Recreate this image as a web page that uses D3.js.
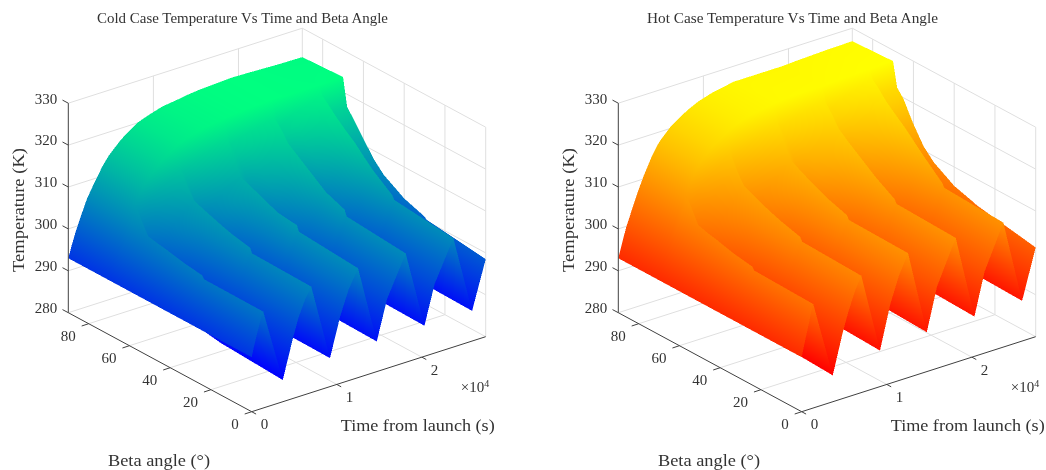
<!DOCTYPE html>
<html lang="en">
<head>
<meta charset="UTF-8">
<title>Cold and hot case temperature</title>
<script src="https://d3js.org/d3.v7.min.js"></script>
<style>
    html, body { margin: 0; background: #fff; }
    svg { display: block; filter: blur(0.45px); }
    text { font-family: "Liberation Serif", serif; fill: #333; font-size: 15px; }
</style>
</head>
<body>
<script>
// values, one row per beta angle
var betas = [0, 29, 30, 40, 45, 50, 55, 60, 65, 68, 70, 90]

// time of each knot (s): start and rise to the 1st peak, then trough/rise/peak for every orbit, last trough, end
var timeRows = [
    [0,250,550,850,1100,1360, 3650,4850,5500,6300,7000, 9200,10400,11400,12500, 14700,15900,18100, 20300,21500,23700, 25900,27500],
    [0,250,550,850,1100,1360, 3650,4850,5500,6300,7000, 9200,10400,11400,12500, 14700,15900,18100, 20300,21500,23700, 25900,27500],
    [0,250,550,850,1100,1360, 3650,4850,5500,6300,7000, 9200,10400,11400,12500, 14700,15900,18100, 20300,21500,23700, 25900,27500],
    [0,300,600,950,1280,1600, 3550,4750,5450,6300,7200, 9100,10300,11400,12700, 14600,15800,18300, 20200,21400,23900, 25800,27500],
    [0,300,650,1050,1400,1750, 3450,4650,5400,6300,7300, 9000,10200,11400,12800, 14500,15700,18400, 20100,21300,24000, 25700,27500],
    [0,320,700,1100,1500,1900, 3350,4550,5350,6300,7400, 8900,10100,11300,12900, 14400,15600,18500, 20000,21200,24100, 25600,27500],
    [0,330,750,1200,1600,2050, 3250,4450,5300,6300,7500, 8750,9950,11200,13000, 14250,15450,18600, 19850,21050,24200, 25450,27500],
    [0,350,800,1250,1700,2200, 3150,4350,5200,6300,7600, 8600,9800,11100,13100, 14100,15300,18700, 19700,20900,24300, 25300,27500],
    [0,380,850,1400,2000,2600, 3050,4200,5000,6250,7800, 8400,9600,11050,13300, 13900,15300,18900, 19500,20900,24500, 25100,27500],
    [0,400,900,1500,2150,2900, 3000,4050,4850,6200,7900, 8300,9500,11000,13400, 13800,15400,19000, 19400,20950,24600, 25000,27500],
    [0,400,900,1500,2200,3000, 3100,4000,4800,6200,8080, 8180,9400,11000,13550, 13650,15500,19150, 19250,21000,24750, 24850,27500],
    [0,400,900,1500,2200,3000, 3100,4000,4800,6200,8080, 8180,9400,11000,13550, 13650,15500,19150, 19250,21000,24750, 24850,27500]
]

var coldTemps = [
    [293,295.2,297.6,299.9,301.7,303, 285.2,294.4,298.9,302.8,305.3, 286.8,296,301.8,306.1, 287.2,296.5,306, 287.3,296.5,306, 287.2,298.5],
    [293,295.3,297.8,300,301.9,303.1, 286,295,299.3,303.1,305.6, 287,296.2,302.5,307.2, 287.5,296.8,307.2, 287.6,296.8,307.5, 287.5,300.3],
    [293,295.3,297.8,300.1,302.2,303.8, 286,295.2,299.7,303.8,306.7, 287.1,296.8,303.3,308.5, 287.6,297.5,308.6, 287.7,297.8,308.4, 287.6,300.8],
    [293,295.6,298,300.6,302.5,304, 287,296,300.5,304.5,307.3, 289,298.3,304.2,308.7, 291,300.3,310, 291,300.8,311.4, 291,302.5],
    [293,295.6,298.4,300.9,302.8,304.2, 288.5,297,301.3,305,307.8, 291.5,300,305,309.4, 295,303,311.5, 295,304,313.3, 295,304],
    [293,295.7,298.6,301,303,304.4, 291,298.7,302.3,305.6,308.4, 294.5,301.8,306,310.2, 299,305.5,313, 299,306.5,315.4, 299,305.5],
    [293,295.8,298.9,301.4,303.1,304.5, 295,301,304,306.6,309, 300,305,308,311, 304.5,309,314.5, 305,310.5,317, 305,308],
    [293,296,299.1,301.5,303.3,304.7, 299,303,305.3,307.3,309.7, 304,307,309.2,311.7, 309,312.2,316, 310,314,318.8, 310,311.5],
    [293,296.2,299.3,302.2,304.9,307, 304,306.2,308,310,312.5, 310.5,312,313.6,315.5, 315,316.3,318.5, 316,318,320.5, 315.5,315],
    [293,296.3,299.6,302.6,305.8,308.3, 307.5,309,310.6,312.5,314.7, 314,315.5,316.8,318.5, 317,318,319.8, 317.5,319,321.5, 316.5,317],
    [293,295.8,299,302.2,305.8,309, 309.3,312.5,314.6,317.4,320, 320.2,321,322,322.7, 322.8,323.2,323.6, 323.6,323.5,323.4, 323.4,323.6],
    [293,295.8,299,302.2,305.8,308.8, 309.1,312.3,314.5,317.3,320, 320.1,321,322,322.7, 322.8,323.2,323.6, 323.6,323.5,323.2, 323.2,323.1]
]

var hotTemps = [
    [293,295.4,298,300.6,303,304.8, 286.3,296,300.4,304.9,307.9, 288.6,298.8,304.9,309.7, 289.4,299.5,309.7, 289.5,299.5,309.7, 289.6,301.3],
    [293,295.5,298.2,300.8,303.2,305.2, 287,296.6,301,305.3,308.4, 289.2,299.5,305.4,310, 290,300,310.2, 290,300.2,310.4, 290,303.8],
    [293,295.5,298.2,300.9,303.5,305.9, 287,296.8,301.5,306,309.3, 289.3,299.8,306,310.9, 290,300.5,311.1, 290,300.7,311.3, 290.1,304],
    [293,295.7,298.6,301.5,303.9,306.2, 288.5,297.5,302.3,306.9,310.2, 291,300.5,306.7,312, 293,302.3,313.5, 293.5,303.3,315, 293.5,305.5],
    [293,295.7,298.9,302,304.3,306.5, 290,299,303.3,307.6,310.8, 293.5,302,307.5,312.8, 297,305,315, 298,306.5,317, 298,307],
    [293,295.8,299.2,302.2,304.6,306.8, 293,300.6,304.3,308.2,311.5, 297,303.8,308.4,313.7, 301.5,308,316.5, 302,309.5,319, 302,308.5],
    [293,295.9,299.5,302.6,304.9,307, 297,303,306.2,309,312.3, 302.5,307,310.4,314.7, 307.5,312,318, 308.5,313.5,320.7, 308.5,311],
    [293,296.1,299.8,302.9,305.2,307.4, 301.5,305.5,307.8,310.1,313.2, 306.5,309.5,311.9,315.7, 312,315.2,319.7, 313.5,317,322.5, 313.5,315],
    [293,296.3,300,303.5,306.9,310, 306.5,308.7,310.5,312.7,316, 313,314.5,316.6,319.5, 318.5,319.8,322.5, 320,321.5,324.5, 319.5,319.8],
    [293,296.3,300,304,307.9,311, 310,311.5,313.4,315.7,318.5, 317,318.5,320.3,322.5, 321,322,324, 321.5,323,325.5, 320.6,321.6],
    [293,296,299.6,303.2,307,311, 311.3,315.2,317.7,320.7,323.2, 323.3,324.5,325.5,326.3, 326.4,326.7,326.8, 326.8,327,327.3, 327.3,327.4],
    [293,296,299.6,303,306.9,310.8, 311.2,315,317.6,320.5,323, 323.1,324.3,325.3,326.3, 326.3,326.3,326.3, 326.3,326.5,326.8, 326.8,326.9]
]

var tempTicks = [280, 290, 300, 310, 320, 330]
var betaTicks = [0, 20, 40, 60, 80]
var timeTicks = [0, 10000, 20000]
var timeTickLabels = ["0", "1", "2"]

var width = 1046
var height = 470
var timeMax = 27500
var betaMax = 90

// oblique projection of the box, each data axis gets its share of screen x and y
var timeX = d3.scaleLinear().domain([0, timeMax]).range([0, 234])
var timeY = d3.scaleLinear().domain([0, timeMax]).range([0, -75])
var betaX = d3.scaleLinear().domain([0, betaMax]).range([0, -183.4])
var betaY = d3.scaleLinear().domain([0, betaMax]).range([0, -99])
var tempY = d3.scaleLinear().domain([280, 330]).range([0, -209.5])

var svg = d3.select("body").append("svg")
    .attr("width", width)
    .attr("height", height)

drawPanel(251.7, "Cold Case Temperature Vs Time and Beta Angle", coldTemps, ["#0000ff", "#00ff80"])
drawPanel(801.7, "Hot Case Temperature Vs Time and Beta Angle", hotTemps, ["#ff0000", "#ffff00"])

// matlab style interpolated surface: z-buffer on a canvas at twice the size, T interpolated per pixel
function surfaceImage(project, temps, colors) {
    var ss = 2
    var w = width * ss
    var h = height * ss
    var zbuf = new Float32Array(w * h).fill(-Infinity)
    var tbuf = new Float32Array(w * h)

    function vertex(i, j, u, v) {
        var t = (timeRows[j][i] * (1 - u) + timeRows[j][i + 1] * u) * (1 - v) + (timeRows[j + 1][i] * (1 - u) + timeRows[j + 1][i + 1] * u) * v
        var T = (temps[j][i] * (1 - u) + temps[j][i + 1] * u) * (1 - v) + (temps[j + 1][i] * (1 - u) + temps[j + 1][i + 1] * u) * v
        var b = betas[j] * (1 - v) + betas[j + 1] * v
        var p = project(t, b, T)
        // nearer the camera = earlier time, lower beta, higher temperature
        return { x: p[0] * ss, y: p[1] * ss, T: T, z: -t / timeMax - 1.276 * b / betaMax + 0.961 * (T - 280) / 50 }
    }
    function triangle(a, b, c) {
        var area = (b.x - a.x) * (c.y - a.y) - (b.y - a.y) * (c.x - a.x)
        if (Math.abs(area) < 1e-6) return
        var x0 = Math.max(0, Math.floor(Math.min(a.x, b.x, c.x)))
        var x1 = Math.min(w - 1, Math.ceil(Math.max(a.x, b.x, c.x)))
        var y0 = Math.max(0, Math.floor(Math.min(a.y, b.y, c.y)))
        var y1 = Math.min(h - 1, Math.ceil(Math.max(a.y, b.y, c.y)))
        for (var y = y0; y <= y1; y++) {
            for (var x = x0; x <= x1; x++) {
                var px = x + 0.5, py = y + 0.5
                var l0 = ((b.x - px) * (c.y - py) - (b.y - py) * (c.x - px)) / area
                var l1 = ((c.x - px) * (a.y - py) - (c.y - py) * (a.x - px)) / area
                var l2 = 1 - l0 - l1
                if (l0 < -1e-4 || l1 < -1e-4 || l2 < -1e-4) continue
                var z = l0 * a.z + l1 * b.z + l2 * c.z
                var k = y * w + x
                if (z > zbuf[k]) {
                    zbuf[k] = z
                    tbuf[k] = l0 * a.T + l1 * b.T + l2 * c.T
                }
            }
        }
    }

    var sub = 4
    for (var j = 0; j < betas.length - 1; j++) {
        for (var i = 0; i < timeRows[0].length - 1; i++) {
            for (var v = 0; v < sub; v++) {
                for (var u = 0; u < sub; u++) {
                    var p00 = vertex(i, j, u / sub, v / sub)
                    var p10 = vertex(i, j, (u + 1) / sub, v / sub)
                    var p01 = vertex(i, j, u / sub, (v + 1) / sub)
                    var p11 = vertex(i, j, (u + 1) / sub, (v + 1) / sub)
                    triangle(p00, p10, p11)
                    triangle(p00, p11, p01)
                }
            }
        }
    }

    var color = d3.scaleLinear()
        .domain([d3.min(temps, function (r) { return d3.min(r) }), d3.max(temps, function (r) { return d3.max(r) })])
        .range(colors)
    var canvas = document.createElement("canvas")
    canvas.width = w
    canvas.height = h
    var ctx = canvas.getContext("2d")
    var img = ctx.createImageData(w, h)
    for (var n = 0; n < w * h; n++) {
        if (zbuf[n] === -Infinity) continue
        var c = d3.rgb(color(tbuf[n]))
        img.data[n * 4] = c.r
        img.data[n * 4 + 1] = c.g
        img.data[n * 4 + 2] = c.b
        img.data[n * 4 + 3] = 255
    }
    ctx.putImageData(img, 0, 0)
    return canvas.toDataURL("image/png")
}

function drawPanel(originX, title, temps, colors) {
    var originY = 411.7
    var g = svg.append("g")

    function pt(t, b, T) {
        return [originX + timeX(t) + betaX(b), originY + timeY(t) + betaY(b) + tempY(T)]
    }
    function line(p, q, stroke, w) {
        g.append("line")
            .attr("x1", p[0]).attr("y1", p[1])
            .attr("x2", q[0]).attr("y2", q[1])
            .attr("stroke", stroke)
            .attr("stroke-width", w)
    }

    // grid on the floor and on the two back walls
    var gridColor = "#dfdfdf"
    tempTicks.forEach(function (T) {
        line(pt(0, betaMax, T), pt(timeMax, betaMax, T), gridColor, 1)
        line(pt(timeMax, betaMax, T), pt(timeMax, 0, T), gridColor, 1)
    })
    betaTicks.forEach(function (b) {
        if (b > 0) line(pt(0, b, 280), pt(timeMax, b, 280), gridColor, 1)
        line(pt(timeMax, b, 280), pt(timeMax, b, 330), gridColor, 1)
    })
    timeTicks.forEach(function (t) {
        if (t > 0) {
            line(pt(t, 0, 280), pt(t, betaMax, 280), gridColor, 1)
            line(pt(t, betaMax, 280), pt(t, betaMax, 330), gridColor, 1)
        }
    })
    line(pt(timeMax, betaMax, 280), pt(timeMax, betaMax, 330), gridColor, 1)

    g.append("image")
        .attr("href", surfaceImage(pt, temps, colors))
        .attr("width", width)
        .attr("height", height)

    // axes
    var axisColor = "#404040"
    line(pt(0, betaMax, 280), pt(0, betaMax, 330), axisColor, 1)
    line(pt(0, 0, 280), pt(0, betaMax, 280), axisColor, 1)
    line(pt(0, 0, 280), pt(timeMax, 0, 280), axisColor, 1)

    tempTicks.forEach(function (T) {
        var p = pt(0, betaMax, T)
        line(p, [p[0] - 5.8, p[1] - 3.1], axisColor, 1)
        g.append("text").attr("x", p[0] - 11).attr("y", p[1] - 4.7)
            .attr("text-anchor", "end").attr("dominant-baseline", "central").text(T)
    })
    betaTicks.forEach(function (b) {
        var p = pt(0, b, 280)
        line(p, [p[0] - 7, p[1] + 2.3], axisColor, 1)
        g.append("text").attr("x", p[0] - 13).attr("y", p[1] + 12)
            .attr("text-anchor", "end").attr("dominant-baseline", "central").text(b)
    })
    timeTicks.forEach(function (t, k) {
        var p = pt(t, 0, 280)
        line(p, [p[0] + 4.4, p[1] + 2.4], axisColor, 1)
        g.append("text").attr("x", p[0] + 12.7).attr("y", p[1] + 12.5)
            .attr("text-anchor", "middle").attr("dominant-baseline", "central").text(timeTickLabels[k])
    })

    // labels, placed relative to the panel origin
    g.append("text")
        .attr("x", originX - 9.2).attr("y", 23)
        .attr("text-anchor", "middle")
        .style("font-size", "15.5px")
        .attr("textLength", 291)
        .attr("lengthAdjust", "spacingAndGlyphs")
        .text(title)
    var mult = g.append("text").attr("x", originX + 209).attr("y", 392)
    mult.append("tspan").text("×10")
    mult.append("tspan").attr("dy", -5).style("font-size", "10px").text("4")
    g.append("text")
        .attr("x", originX + 166).attr("y", 425).attr("dominant-baseline", "central")
        .attr("text-anchor", "middle")
        .style("font-size", "16px")
        .attr("textLength", 154)
        .attr("lengthAdjust", "spacingAndGlyphs")
        .text("Time from launch (s)")
    g.append("text")
        .attr("x", originX - 92.7).attr("y", 460.5).attr("dominant-baseline", "central")
        .attr("text-anchor", "middle")
        .style("font-size", "16px")
        .attr("textLength", 102)
        .attr("lengthAdjust", "spacingAndGlyphs")
        .text("Beta angle (°)")
    g.append("text")
        .attr("transform", "translate(" + (originX - 233.7) + ",210) rotate(-90)")
        .attr("dominant-baseline", "central")
        .attr("text-anchor", "middle")
        .style("font-size", "16px")
        .attr("textLength", 124)
        .attr("lengthAdjust", "spacingAndGlyphs")
        .text("Temperature (K)")
}
</script>
</body>
</html>
